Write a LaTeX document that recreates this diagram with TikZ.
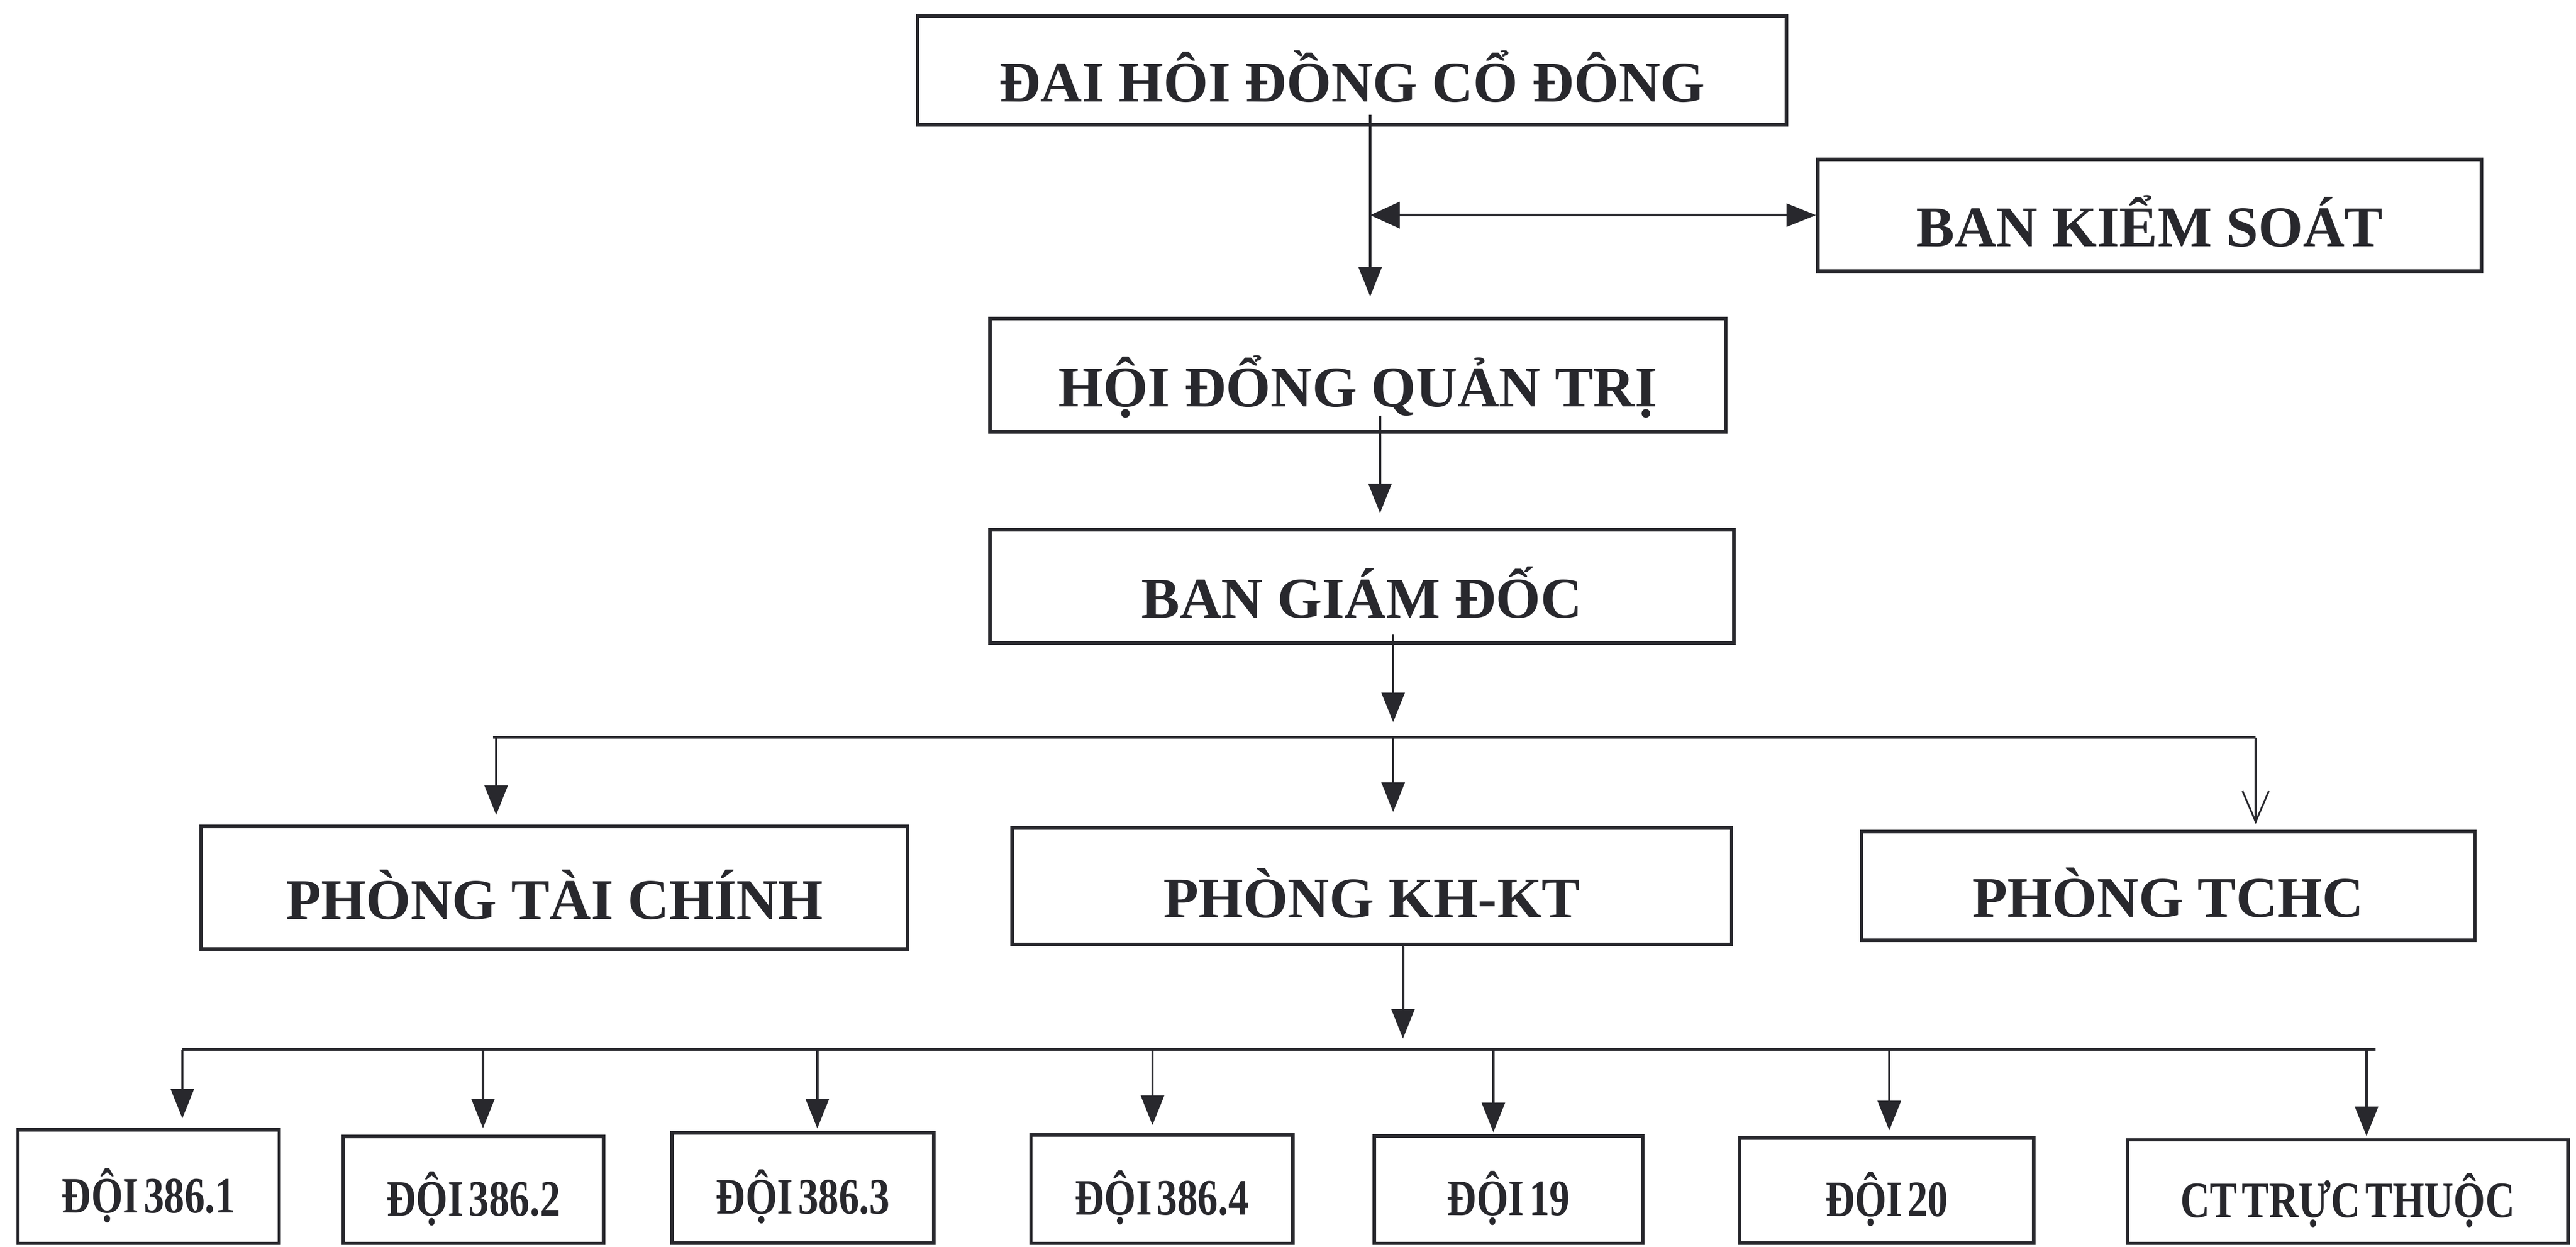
\documentclass[tikz,border=0pt]{standalone}
\usepackage{fontspec}
\setmainfont{Liberation Serif}
\newfontfamily\narrowfont{Liberation Serif}[FakeStretch=0.8, WordSpace=0.5]
\usetikzlibrary{arrows.meta}

\definecolor{ink}{RGB}{40,40,45}

\tikzset{every picture/.style={line width=0.75pt}}
\tikzset{
  orgbox/.style={draw=ink, line width=1.6pt, inner sep=0pt, text=ink,
    font=\fontsize{26.25}{30}\selectfont\bfseries, text height=28.6pt, text depth=0pt},
  teambox/.style={orgbox, font=\narrowfont\fontsize{23.25}{27}\selectfont\bfseries, text height=23.6pt},
  boxsize/.style 2 args={minimum width=#1*0.75pt, minimum height=#2*0.75pt},
  link/.style={draw=ink, line width=1.1pt},
  solidtip/.style={-{Triangle[length=13.5pt,width=10.5pt]}},
  opentip/.style={-{Straight Barb[length=14pt,width=12pt,line width=0.8pt]}},
}

\begin{document}
\begin{tikzpicture}[x=0.75pt,y=0.75pt,yscale=-1,xscale=1]
\path[use as bounding box] (0,0) rectangle (1568,759);

% Text Node
\draw (823,43) node [orgbox, boxsize={529}{66}] (dhcd) {ĐAI HÔI ĐỒNG CỔ ĐÔNG};
% Text Node
\draw (1308.5,131) node [orgbox, boxsize={404}{68}] (bks) {BAN KIỂM SOÁT};
% Text Node
\draw (826.5,228.5) node [orgbox, boxsize={448}{69}] (hdqt) {HỘI ĐỔNG QUẢN TRỊ};
% Text Node
\draw (829,357) node [orgbox, boxsize={453}{69}] (bgd) {BAN GIÁM ĐỐC};
% Text Node
\draw (337.5,540.5) node [orgbox, boxsize={430}{74.5}] (ptc) {PHÒNG TÀI CHÍNH};
% Text Node
\draw (835,539.5) node [orgbox, boxsize={438}{71}] (pkhkt) {PHÒNG KH-KT};
% Text Node
\draw (1319.75,539.35) node [orgbox, boxsize={373.5}{66}] (ptchc) {PHÒNG TCHC};
% Text Node
\draw (90.5,722.5) node [teambox, boxsize={159}{69}] (d1) {ĐỘI 386.1};
% Text Node
\draw (288.25,724.5) node [teambox, boxsize={158.5}{65}] (d2) {ĐỘI 386.2};
% Text Node
\draw (488.75,723.35) node [teambox, boxsize={159.5}{67}] (d3) {ĐỘI 386.3};
% Text Node
\draw (707.25,724) node [teambox, boxsize={159.5}{66}] (d4) {ĐỘI 386.4};
% Text Node
\draw (918.25,724.3) node [teambox, boxsize={163.5}{65.4}] (d19) {ĐỘI 19};
% Text Node
\draw (1148.5,724.9) node [teambox, boxsize={179}{64}] (d20) {ĐỘI 20};
% Text Node
\draw (1429,725.5) node [teambox, boxsize={268}{63}] (ctt) {CT TRỰC THUỘC};

% junctions
\coordinate (jks) at (834,131);
\coordinate (jqt) at (840,253);
\coordinate (b1l) at (302,449);
\coordinate (b1m) at (848,449);
\coordinate (b1r) at (1373,449);
\coordinate (jkt) at (854,575);
\coordinate (b2l) at (111,639);
\coordinate (b2m) at (854,639);
\coordinate (b2r) at (1446,639);
\coordinate (t2) at (294,639);
\coordinate (t3) at (497.5,639);
\coordinate (t4) at (701.5,639);
\coordinate (t5) at (909,639);
\coordinate (t6) at (1150,639);
\coordinate (t7) at (1440.5,639);

%Straight Lines [id:da5120934418]
\draw [link, solidtip, shorten <=-5.25pt, shorten >=9.3pt] (dhcd.south -| jks) -- (hdqt.north -| jks) ;
%Straight Lines [id:da7712093561]
\draw [link, {Triangle[length=13.5pt,width=12pt]}-{Triangle[length=13.5pt,width=10.5pt]}] (jks) -- (bks.west) ;
%Straight Lines [id:da2284716093]
\draw [link, solidtip, shorten >=6.75pt] (jqt) -- (bgd.north -| jqt) ;
%Straight Lines [id:da9031577246]
\draw [link, solidtip, shorten <=-4.8pt, shorten >=7pt] (bgd.south -| b1m) -- (b1m) ;
%Straight Lines [id:da4468120577]
\draw [link] ([xshift=-1.5pt]b1l) -- (b1r) ;
%Straight Lines [id:da1359027741]
\draw [link, solidtip, shorten >=4.5pt] (b1l) -- (ptc.north -| b1l) ;
%Straight Lines [id:da6621840915]
\draw [link, solidtip, shorten >=6.4pt] (b1m) -- (pkhkt.north -| b1m) ;
%Straight Lines [id:da3307718452]
\draw [link, opentip, shorten >=2.7pt] (b1r) -- (ptchc.north -| b1r) ;
%Straight Lines [id:da8194420637]
\draw [link, solidtip, shorten >=5pt] (jkt) -- (b2m) ;
%Straight Lines [id:da0573319824]
\draw [link] (b2l) -- (b2r) ;
%Straight Lines [id:da7265504182]
\draw [link, solidtip, shorten >=4.5pt] (b2l) -- (d1.north -| b2l) ;
%Straight Lines [id:da2918840376]
\draw [link, solidtip, shorten >=3pt] (t2) -- (d2.north -| t2) ;
%Straight Lines [id:da6049937751]
\draw [link, solidtip, shorten >=1.3pt] (t3) -- (d3.north -| t3) ;
%Straight Lines [id:da4830119265]
\draw [link, solidtip, shorten >=3.7pt] (t4) -- (d4.north -| t4) ;
%Straight Lines [id:da1172986304]
\draw [link, solidtip, shorten >=0.9pt] (t5) -- (d19.north -| t5) ;
%Straight Lines [id:da9957203318]
\draw [link, solidtip, shorten >=2.7pt] (t6) -- (d20.north -| t6) ;
%Straight Lines [id:da3640571829]
\draw [link, solidtip, shorten >=0.9pt] (t7) -- (ctt.north -| t7) ;

\end{tikzpicture}
\end{document}
